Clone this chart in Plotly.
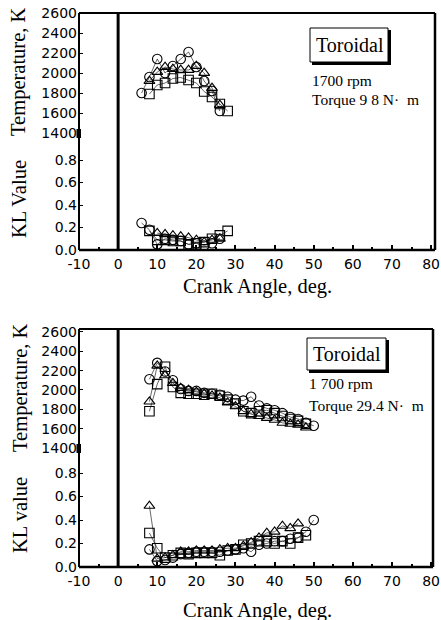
import plotly.graph_objects as go

W, H = 441, 620

# ---------------- data ----------------
# Top panel: 1700 rpm, torque 9.8 N·m
top_T_circle_x = [6, 8, 10, 12, 14, 16, 18, 20, 22, 24, 26]
top_T_circle_y = [1800, 1960, 2140, 2000, 2070, 2140, 2210, 2060, 1920, 1820, 1620]
top_T_tri_x = [8, 10, 12, 14, 16, 18, 20, 22, 24, 26]
top_T_tri_y = [1920, 2010, 2060, 2040, 2030, 2030, 2070, 2000, 1850, 1680]
top_T_sq_x = [8, 10, 12, 14, 16, 18, 20, 22, 24, 26, 28]
top_T_sq_y = [1790, 1880, 1900, 1945, 1955, 1930, 1900, 1815, 1760, 1690, 1620]

top_KL_circle_x = [6, 8, 10, 12, 14, 16, 18, 20, 22, 24, 26]
top_KL_circle_y = [0.24, 0.18, 0.05, 0.10, 0.09, 0.08, 0.05, 0.06, 0.04, 0.06, 0.10]
top_KL_tri_x = [10, 12, 14, 16, 18, 20, 22, 24, 26]
top_KL_tri_y = [0.15, 0.14, 0.13, 0.12, 0.11, 0.09, 0.07, 0.09, 0.10]
top_KL_sq_x = [8, 10, 12, 14, 16, 18, 20, 22, 24, 26, 28]
top_KL_sq_y = [0.17, 0.09, 0.09, 0.08, 0.08, 0.05, 0.06, 0.07, 0.10, 0.13, 0.17]

# Bottom panel: 1700 rpm, torque 29.4 N·m
bot_T_circle_x = [8, 10, 12, 14, 16, 18, 20, 22, 24, 26, 28, 30, 32, 34, 36, 38, 40, 42, 44, 46, 48, 50]
bot_T_circle_y = [2110, 2280, 2190, 2100, 2010, 1990, 1990, 1970, 1960, 1950, 1930, 1900, 1890, 1930,
                  1840, 1810, 1790, 1760, 1720, 1700, 1660, 1630]
bot_T_tri_x = [8, 10, 12, 14, 16, 18, 20, 22, 24, 26, 28, 30, 32, 34, 36, 38, 40, 42, 44, 46, 48]
bot_T_tri_y = [1880, 2250, 2150, 2070, 2020, 2000, 1980, 1960, 1940, 1920, 1870, 1830, 1780, 1750,
               1730, 1710, 1690, 1660, 1650, 1640, 1610]
bot_T_sq_x = [8, 10, 12, 14, 16, 18, 20, 22, 24, 26, 28, 30, 32, 34, 36, 38, 40, 42, 44, 46, 48]
bot_T_sq_y = [1780, 2060, 2240, 2030, 1970, 1960, 1960, 1950, 1960, 1940, 1900, 1860, 1780, 1760,
              1780, 1790, 1760, 1730, 1700, 1680, 1650]

bot_KL_circle_x = [8, 10, 12, 14, 16, 18, 20, 22, 24, 26, 28, 30, 32, 34, 36, 38, 40, 42, 44, 46, 48, 50]
bot_KL_circle_y = [0.15, 0.05, 0.06, 0.08, 0.11, 0.12, 0.13, 0.13, 0.13, 0.13, 0.14, 0.15, 0.16, 0.13,
                   0.19, 0.20, 0.22, 0.22, 0.24, 0.25, 0.30, 0.40]
bot_KL_tri_x = [8, 10, 12, 14, 16, 18, 20, 22, 24, 26, 28, 30, 32, 34, 36, 38, 40, 42, 44, 46]
bot_KL_tri_y = [0.52, 0.07, 0.08, 0.10, 0.13, 0.13, 0.14, 0.14, 0.14, 0.15, 0.16, 0.16, 0.18, 0.21,
                0.25, 0.29, 0.30, 0.35, 0.33, 0.37]
bot_KL_sq_x = [8, 10, 12, 14, 16, 18, 20, 22, 24, 26, 28, 30, 32, 34, 36, 38, 40, 42, 44, 46, 48]
bot_KL_sq_y = [0.29, 0.16, 0.08, 0.10, 0.12, 0.11, 0.12, 0.12, 0.12, 0.10, 0.14, 0.15, 0.19, 0.20,
               0.22, 0.22, 0.20, 0.22, 0.20, 0.25, 0.27]

x_ticks = [-10, 0, 10, 20, 30, 40, 50, 60, 70, 80]
kl_ticks = [0.0, 0.2, 0.4, 0.6, 0.8]
t_ticks = [1400, 1600, 1800, 2000, 2200, 2400, 2600]

# ---------------- geometry helpers (pixels -> paper) ----------------
def PX(p):
    return p / W

def PY(p):
    return 1 - p / H

L, R = 79, 435
top_bot, top_mid, top_top = 250, 133, 13
bot_bot, bot_mid, bot_top = 567, 448, 329

fig = go.Figure()

def add(xs, ys, sym, xa, ya):
    fig.add_trace(go.Scatter(
        x=xs, y=ys, mode="lines+markers", xaxis=xa, yaxis=ya, showlegend=False,
        line=dict(color="black", width=0.6),
        marker=dict(symbol=sym, size=9.5, color="black", line=dict(width=1.1, color="black")),
    ))

# top panel
add(top_T_circle_x, top_T_circle_y, "circle-open", "x", "y2")
add(top_T_tri_x, top_T_tri_y, "triangle-up-open", "x", "y2")
add(top_T_sq_x, top_T_sq_y, "square-open", "x", "y2")
add(top_KL_circle_x, top_KL_circle_y, "circle-open", "x", "y")
add(top_KL_tri_x, top_KL_tri_y, "triangle-up-open", "x", "y")
add(top_KL_sq_x, top_KL_sq_y, "square-open", "x", "y")
# bottom panel
add(bot_T_circle_x, bot_T_circle_y, "circle-open", "x2", "y4")
add(bot_T_tri_x, bot_T_tri_y, "triangle-up-open", "x2", "y4")
add(bot_T_sq_x, bot_T_sq_y, "square-open", "x2", "y4")
add(bot_KL_circle_x, bot_KL_circle_y, "circle-open", "x2", "y3")
add(bot_KL_tri_x, bot_KL_tri_y, "triangle-up-open", "x2", "y3")
add(bot_KL_sq_x, bot_KL_sq_y, "square-open", "x2", "y3")

tickfont = dict(family="DejaVu Sans", size=14, color="black")

def xaxis(anchor):
    return dict(domain=[PX(L), PX(R)], range=[-10, 81], anchor=anchor, automargin=False,
                tickvals=x_ticks, ticktext=[str(v) for v in x_ticks], ticklabelstandoff=4,
                ticks="inside", ticklen=5, tickwidth=2, tickcolor="black",
                minor=dict(dtick=5, tick0=0, ticks="inside", ticklen=3, tickcolor="black"),
                showgrid=False, zeroline=False, showline=False, tickfont=tickfont, fixedrange=True)

def yaxis(anchor, dom, rng, vals, fmt):
    return dict(domain=dom, range=rng, anchor=anchor, tickvals=vals, automargin=False,
                ticktext=[fmt(v) for v in vals], ticks="inside", ticklen=4, tickwidth=1,
                ticklabelstandoff=1,
                tickcolor="black", showgrid=False, zeroline=False, showline=False,
                tickfont=tickfont, fixedrange=True)

kl_fmt = lambda v: f"{v:.1f}"
t_fmt = lambda v: f"{v:d}"

fig.update_layout(
    width=W, height=H, margin=dict(l=0, r=0, t=0, b=0, autoexpand=False),
    paper_bgcolor="white", plot_bgcolor="white",
    xaxis=xaxis("y"),
    xaxis2=xaxis("y3"),
    yaxis=yaxis("x", [PY(top_bot), PY(top_mid)], [0, 1.04], kl_ticks, kl_fmt),
    yaxis2=yaxis("x", [PY(top_mid), PY(top_top)], [1400, 2600], t_ticks, t_fmt),
    yaxis3=yaxis("x2", [PY(bot_bot), PY(bot_mid)], [0, 1.013], kl_ticks, kl_fmt),
    yaxis4=yaxis("x2", [PY(bot_mid), PY(bot_top)], [1400, 2630], t_ticks, t_fmt),
)

shapes = []
def seg(x0, y0, x1, y1, w, xref="paper"):
    shapes.append(dict(type="line", xref=xref, yref="paper",
                       x0=x0 if xref != "paper" else PX(x0),
                       x1=x1 if xref != "paper" else PX(x1),
                       y0=PY(y0), y1=PY(y1), line=dict(color="black", width=w)))

for (yb, ym, yt, xr, rr) in [(top_bot, top_mid, top_top, "x", 435), (bot_bot, bot_mid, bot_top, "x2", 433)]:
    # frame
    seg(L, yt, rr, yt, 2)          # top
    seg(L, yb, rr, yb, 2.5)        # bottom
    seg(L, yt, L, yb, 2)           # left
    seg(rr, yt, rr, yb, 2.5)       # right
    # vertical line at 0 deg
    seg(0, yb, 0, yt, 3, xref=xr)
    # axis-break blob
    shapes.append(dict(type="rect", xref="paper", yref="paper", x0=PX(L - 2.5), x1=PX(L + 2),
                       y0=PY(ym + 5), y1=PY(ym - 4), fillcolor="black", line=dict(width=0)))

# "Toroidal" boxes with shadow
boxes = [(310, 388, 28, 62), (307, 386, 338, 370)]
for (x0, x1, y0, y1) in boxes:
    shapes.append(dict(type="rect", xref="paper", yref="paper", x0=PX(x0), x1=PX(x1),
                       y0=PY(y1), y1=PY(y0), line=dict(color="black", width=1), fillcolor="white"))
    seg(x1 + 1.5, y0 + 2, x1 + 1.5, y1 + 2, 3)
    seg(x0 + 2, y1 + 1.5, x1 + 3, y1 + 1.5, 3)
fig.update_layout(shapes=shapes)

serif = "Liberation Serif"
ann = []
def text(x, y, s, size, xanchor="center", angle=0):
    ann.append(dict(xref="paper", yref="paper", x=PX(x), y=PY(y), text=s, showarrow=False,
                    xanchor=xanchor, yanchor="middle", textangle=angle,
                    font=dict(family=serif, size=size, color="black")))

text(350, 45, "Toroidal", 20)
text(310, 81, "1700 rpm", 15.5, "left")
text(310, 100, "Torque 9 8 N·  m", 15.5, "left")
text(347, 354, "Toroidal", 20)
text(307, 383, "1 700 rpm", 15.5, "left")
text(307, 405, "Torque 29.4 N·  m", 15.5, "left")

text(257, 286, "Crank Angle, deg.", 20.5)
text(257, 610, "Crank Angle, deg.", 20.5)

text(19, 72, "Temperature, K", 20.5, angle=-90)
text(19, 199, "KL Value", 20.5, angle=-90)
text(20, 388, "Temperature, K", 20.5, angle=-90)
text(20, 515, "KL value", 20.5, angle=-90)

fig.update_layout(annotations=ann)

fig.write_html("out.html", config={"displayModeBar": False},
               post_script="document.body.style.margin='0px';")
